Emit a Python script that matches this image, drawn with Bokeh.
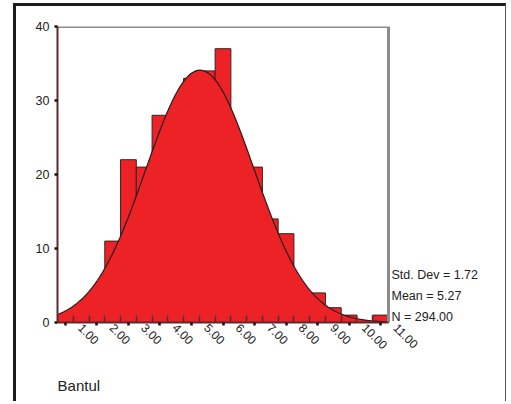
import math
import numpy as np
from bokeh.plotting import figure
from bokeh.models import FixedTicker, LinearAxis, Range1d
from bokeh.embed import file_html
from bokeh.resources import INLINE

# ---- data ----
bin_centers = [1.0, 1.5, 2.0, 2.5, 3.0, 3.5, 4.0, 4.5, 5.0, 5.5, 6.0,
               6.5, 7.0, 7.5, 8.0, 8.5, 9.0, 9.5, 10.0, 10.5, 11.0]
counts = [1, 2, 4, 11, 22, 21, 28, 23, 33, 34, 37,
          19, 21, 14, 12, 4, 4, 2, 1, 0, 1]
x_ticks = [1, 2, 3, 4, 5, 6, 7, 8, 9, 10, 11]
x_tick_labels = ["1.00", "2.00", "3.00", "4.00", "5.00", "6.00",
                 "7.00", "8.00", "9.00", "10.00", "11.00"]
y_ticks = [0, 10, 20, 30, 40]
STD_DEV = 1.72
MEAN = 5.27
N = 294
BIN_WIDTH = 0.5
stats_lines = ["Std. Dev = 1.72", "Mean = 5.27", "N = 294.00"]
var_name = "Bantul"

RED = "#ec2227"
MAROON = "#5e2a2c"
GRAY = "#8c8c8c"
TXT = "#222222"
FONT = "Liberation Sans"

x_lo = bin_centers[0] - BIN_WIDTH / 2
x_hi = bin_centers[-1] + BIN_WIDTH / 2
y_lo, y_hi = y_ticks[0], y_ticks[-1]

W, H = 493, 398
BL, BR, BT, BB = 41, 111, 20, 82
BOX_W = 331                      # width of the drawn plot box (px)
FRAME_W = W - BL - BR            # frame is a little wider, to give room to the last label
x_view_hi = x_lo + (x_hi - x_lo) * FRAME_W / BOX_W
px_per_unit = BOX_W / (x_hi - x_lo)

p = figure(width=W, height=H, x_range=(x_lo, x_view_hi), y_range=(y_lo, y_hi),
           output_backend="svg", toolbar_location=None,
           min_border_left=BL, min_border_right=BR,
           min_border_top=BT, min_border_bottom=BB,
           margin=(3, 0, 0, 13),
           styles={"border-top": "3px solid #1c1c1c",
                   "border-left": "3px solid #1c1c1c",
                   "border-right": "1px solid #555555"})
p.xgrid.visible = False
p.ygrid.visible = False
p.outline_line_color = None

# bars
p.vbar(x=bin_centers, width=BIN_WIDTH, top=counts, bottom=0,
       fill_color=RED, line_color="#3a2222", line_width=1)

# fitted normal curve (from the shown mean / sd / N)
xs = np.linspace(x_lo, x_hi, 400)
ys = N * BIN_WIDTH / (STD_DEV * math.sqrt(2 * math.pi)) * np.exp(-0.5 * ((xs - MEAN) / STD_DEV) ** 2)
p.varea(x=xs, y1=np.zeros_like(xs), y2=ys, fill_color=RED)
p.line(xs, ys, line_color="#2a1a1a", line_width=1.2)

# top and right border of the plot box
p.line(x=[x_lo, x_hi, x_hi], y=[y_hi, y_hi, y_lo], line_color=GRAY, line_width=3)

# y axis
yax = p.yaxis[0]
yax.ticker = FixedTicker(ticks=y_ticks)
yax.major_tick_in = 0
yax.major_tick_out = 3
yax.major_tick_line_width = 2.5
yax.major_tick_line_color = "#111111"
yax.minor_tick_line_color = None
yax.axis_line_color = MAROON
yax.axis_line_width = 2
yax.major_label_text_font = FONT
yax.major_label_text_font_size = "12.5px"
yax.major_label_text_color = TXT
yax.major_label_standoff = 5

# x axis (ticks only)
edges = [c + BIN_WIDTH / 2 for c in bin_centers[:-1]]
xax = p.xaxis[0]
xax.bounds = (x_lo, x_hi)
xax.ticker = FixedTicker(ticks=x_ticks, minor_ticks=edges)
xax.major_tick_in = 0
xax.major_tick_out = 3
xax.major_tick_line_width = 2.5
xax.major_tick_line_color = "#111111"
xax.minor_tick_in = 7
xax.minor_tick_out = 0
xax.minor_tick_line_color = MAROON
xax.minor_tick_line_width = 1.5
xax.axis_line_color = MAROON
xax.axis_line_width = 2
xax.major_label_text_font_size = "1px"
xax.major_label_text_color = None
xax.major_label_standoff = 0

# x tick labels: second axis, nudged right so rotated text starts past the dot
shift = 15 / px_per_unit
p.extra_x_ranges = {"lab": Range1d(x_lo - shift, x_view_hi - shift)}
lab_axis = LinearAxis(x_range_name="lab", ticker=FixedTicker(ticks=x_ticks),
                      major_label_overrides={t: s for t, s in zip(x_ticks, x_tick_labels)},
                      major_label_orientation=-math.pi / 4,
                      major_label_standoff=0,
                      major_tick_in=0, major_tick_out=0,
                      minor_tick_in=0, minor_tick_out=0,
                      major_label_text_font=FONT,
                      major_label_text_font_size="12px",
                      major_label_text_color=TXT,
                      axis_line_color=None, major_tick_line_color=None,
                      minor_tick_line_color=None)
p.add_layout(lab_axis, "below")

# variable name, left-aligned under the plot box (centred label -> offset by half its width)
name_half_px = 21.3
name_x = x_lo + name_half_px / px_per_unit
name_axis = LinearAxis(ticker=FixedTicker(ticks=[name_x]),
                       major_label_overrides={name_x: var_name},
                       major_label_standoff=20,
                       major_tick_in=0, major_tick_out=0,
                       minor_tick_in=0, minor_tick_out=0,
                       major_label_text_font=FONT,
                       major_label_text_font_size="15px",
                       major_label_text_color=TXT,
                       axis_line_color=None, major_tick_line_color=None,
                       minor_tick_line_color=None)
p.add_layout(name_axis, "below")

# stats text on the right
stat_pos = [6.45, 3.6, 0.81]
stat_axis = LinearAxis(ticker=FixedTicker(ticks=stat_pos),
                       major_label_overrides={t: s for t, s in zip(stat_pos, stats_lines)},
                       major_label_standoff=3 - (FRAME_W - BOX_W),
                       major_tick_in=0, major_tick_out=0,
                       minor_tick_in=0, minor_tick_out=0,
                       major_label_text_font=FONT,
                       major_label_text_font_size="12.5px",
                       major_label_text_color=TXT,
                       axis_line_color=None, major_tick_line_color=None,
                       minor_tick_line_color=None)
p.add_layout(stat_axis, "right")

open("out.html", "w").write(file_html(p, INLINE))
